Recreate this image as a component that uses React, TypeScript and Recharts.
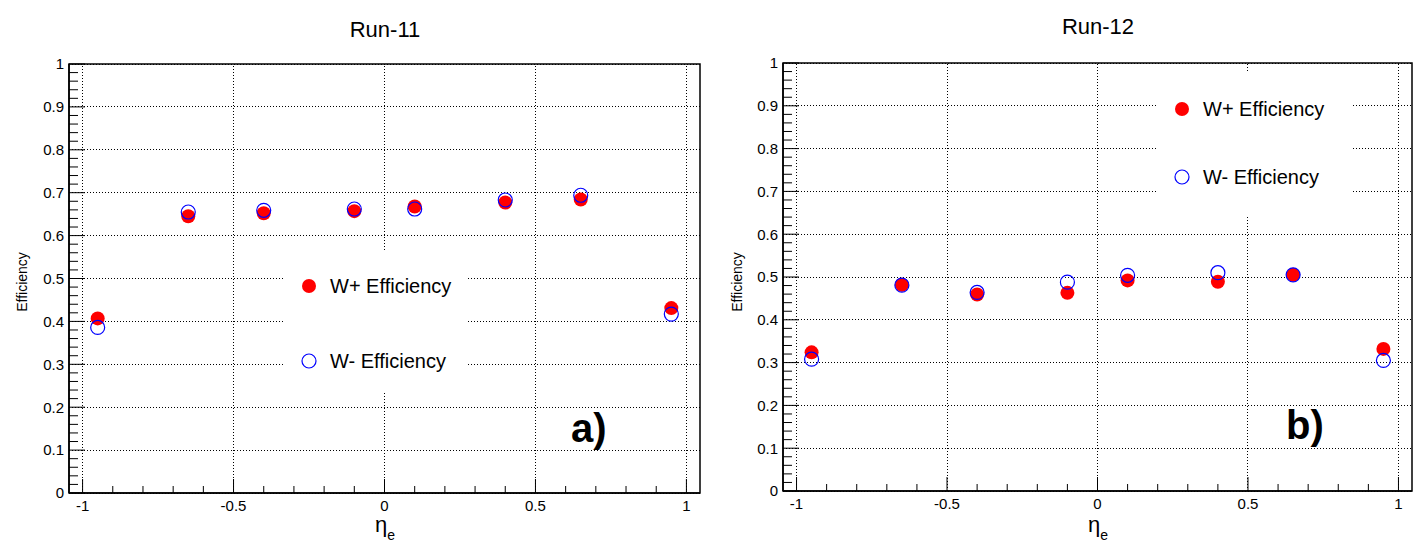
import React from 'react';
import {
  ScatterChart,
  Scatter,
  XAxis,
  YAxis,
  ReferenceArea,
  ReferenceLine,
} from 'recharts';

const FONT = '"Liberation Sans", Arial, Helvetica, sans-serif';

// eta bin centres
const etaBins = [-0.95, -0.65, -0.4, -0.1, 0.1, 0.4, 0.65, 0.95];

// Run-11 efficiencies
const run11Plus = [0.407, 0.645, 0.652, 0.657, 0.668, 0.677, 0.684, 0.431];
const run11Minus = [0.386, 0.655, 0.659, 0.662, 0.662, 0.683, 0.694, 0.417];

// Run-12 efficiencies
const run12Plus = [0.324, 0.482, 0.459, 0.463, 0.492, 0.489, 0.505, 0.332];
const run12Minus = [0.308, 0.481, 0.464, 0.488, 0.504, 0.51, 0.505, 0.305];

const seriesNames = ['W+ Efficiency', 'W- Efficiency'];
const xTicks = [-1, -0.5, 0, 0.5, 1];
const yTicks = [0, 0.1, 0.2, 0.3, 0.4, 0.5, 0.6, 0.7, 0.8, 0.9, 1];
const xMinorTicks = Array.from({ length: 21 }, (_, i) => Math.round((-1 + i * 0.1) * 100) / 100);
const yMinorTicks = Array.from({ length: 51 }, (_, i) => (i * 2) / 100);

const X_DOMAIN: [number, number] = [-1.045, 1.045];

const toPoints = (ys: number[]) => etaBins.map((x, i) => ({ x, y: ys[i] }));

const RedDot = (p: any) => <circle cx={p.cx} cy={p.cy} r={7} fill="#ff0000" />;
const BlueRing = (p: any) => (
  <circle cx={p.cx} cy={p.cy} r={7} fill="none" stroke="#0000ff" strokeWidth={1.2} />
);

// ROOT style ticks: drawn inward, labels only on the major ones
const XTick = (p: any) => {
  const v = p.payload.value;
  const major = xTicks.includes(v);
  return (
    <g>
      <line x1={p.x} x2={p.x} y1={p.y} y2={p.y - (major ? 14 : 7)} stroke="#000" />
      {major && (
        <text x={p.x} y={p.y + 7} dy="0.71em" textAnchor="middle" fontSize={15} fill="#000">
          {String(v)}
        </text>
      )}
    </g>
  );
};

const YTick = (p: any) => {
  const v = p.payload.value;
  const major = yTicks.includes(v);
  return (
    <g>
      <line x1={p.x} x2={p.x + (major ? 16 : 9)} y1={p.y} y2={p.y} stroke="#000" />
      {major && (
        <text x={p.x - 5} y={p.y} dy="0.355em" textAnchor="end" fontSize={15} fill="#000">
          {String(v)}
        </text>
      )}
    </g>
  );
};

const LegendBox = ({ box }: { box: { left: number; top: number; width: number; height: number; rowGap: number } }) => (
  <div
    style={{
      position: 'absolute',
      left: box.left,
      top: box.top,
      width: box.width,
      height: box.height,
      background: '#fff',
      fontFamily: FONT,
      fontSize: 20,
      color: '#000',
    }}
  >
    {seriesNames.map((name, i) => (
      <div
        key={name}
        style={{
          position: 'absolute',
          left: 14,
          top: box.rowGap * i + 24,
          height: 24,
          display: 'flex',
          alignItems: 'center',
          whiteSpace: 'nowrap',
        }}
      >
        <svg width={22} height={24} style={{ marginRight: 9 }}>
          {i === 0 ? (
            <circle cx={10} cy={12} r={7} fill="#ff0000" />
          ) : (
            <circle cx={10} cy={12} r={7} fill="none" stroke="#0000ff" strokeWidth={1.2} />
          )}
        </svg>
        <span>{name}</span>
      </div>
    ))}
  </div>
);

type PanelProps = {
  left: number;
  margin: { top: number; right: number; bottom: number; left: number };
  yAxisWidth: number;
  plus: number[];
  minus: number[];
  legend: { left: number; top: number; width: number; height: number; rowGap: number };
};

const Panel = ({ left, margin, yAxisWidth, plus, minus, legend }: PanelProps) => (
  <div style={{ position: 'absolute', left, top: 0, width: 712, height: 554 }}>
    <ScatterChart width={712} height={554} margin={margin} style={{ fontFamily: FONT }}>
      <XAxis
        xAxisId="main"
        type="number"
        dataKey="x"
        domain={X_DOMAIN}
        ticks={xMinorTicks}
        allowDataOverflow
        interval={0}
        height={30}
        tickLine={false}
        tickSize={0}
        tickMargin={0}
        axisLine={{ stroke: '#000', strokeWidth: 1.5 }}
        tick={XTick}
      />
      <YAxis
        yAxisId="main"
        type="number"
        dataKey="y"
        domain={[0, 1]}
        ticks={yMinorTicks}
        interval={0}
        width={yAxisWidth}
        tickLine={false}
        tickSize={0}
        tickMargin={0}
        axisLine={{ stroke: '#000', strokeWidth: 1.5 }}
        tick={YTick}
      />
      {xTicks.map((v) => (
        <ReferenceLine
          key={`gx${v}`}
          xAxisId="main"
          yAxisId="main"
          x={v}
          stroke="#000"
          strokeDasharray="1 2"
          shapeRendering="crispEdges"
        />
      ))}
      {yTicks.map((v) => (
        <ReferenceLine
          key={`gy${v}`}
          xAxisId="main"
          yAxisId="main"
          y={v}
          stroke="#000"
          strokeDasharray="1 2"
          shapeRendering="crispEdges"
        />
      ))}
      <ReferenceArea
        xAxisId="main"
        yAxisId="main"
        x1={X_DOMAIN[0]}
        x2={X_DOMAIN[1]}
        y1={0}
        y2={1}
        fill="none"
        stroke="#000"
        strokeWidth={1.5}
        ifOverflow="visible"
      />
      <Scatter
        xAxisId="main"
        yAxisId="main"
        name={seriesNames[0]}
        data={toPoints(plus)}
        shape={RedDot}
        isAnimationActive={false}
      />
      <Scatter
        xAxisId="main"
        yAxisId="main"
        name={seriesNames[1]}
        data={toPoints(minus)}
        shape={BlueRing}
        isAnimationActive={false}
      />
    </ScatterChart>
    <LegendBox box={legend} />
  </div>
);

const Overlay = () => (
  <svg
    width={1424}
    height={554}
    style={{ position: 'absolute', left: 0, top: 0, pointerEvents: 'none', fontFamily: FONT }}
  >
    <text x={385} y={37} fontSize={22} textAnchor="middle" fill="#000">Run-11</text>
    <text x={1098} y={34} fontSize={22} textAnchor="middle" fill="#000">Run-12</text>

    <text x={27} y={282} fontSize={14} textAnchor="middle" fill="#000" transform="rotate(-90 27 282)">
      Efficiency
    </text>
    <text x={742} y={282} fontSize={14} textAnchor="middle" fill="#000" transform="rotate(-90 742 282)">
      Efficiency
    </text>

    <text x={375} y={532} fontSize={22} fill="#000">
      η<tspan fontSize={14} dy={8}>e</tspan>
    </text>
    <text x={1088} y={532} fontSize={22} fill="#000">
      η<tspan fontSize={14} dy={8}>e</tspan>
    </text>

    <text x={571} y={442} fontSize={40} fontWeight="bold" fill="#000">a)</text>
    <text x={1286} y={439} fontSize={40} fontWeight="bold" fill="#000">b)</text>
  </svg>
);

export default function App() {
  return (
    <div style={{ position: 'relative', width: 1424, height: 554, background: '#fff', overflow: 'hidden' }}>
      <style>{'body{margin:0;}'}</style>
      <Panel
        left={0}
        margin={{ top: 64, right: 12, bottom: 31, left: 0 }}
        yAxisWidth={69}
        plus={run11Plus}
        minus={run11Minus}
        legend={{ left: 285, top: 250, width: 181, height: 143, rowGap: 75 }}
      />
      <Panel
        left={712}
        margin={{ top: 63, right: 12, bottom: 33, left: 0 }}
        yAxisWidth={71}
        plus={run12Plus}
        minus={run12Minus}
        legend={{ left: 446, top: 73, width: 195, height: 142, rowGap: 68 }}
      />
      <Overlay />
    </div>
  );
}
